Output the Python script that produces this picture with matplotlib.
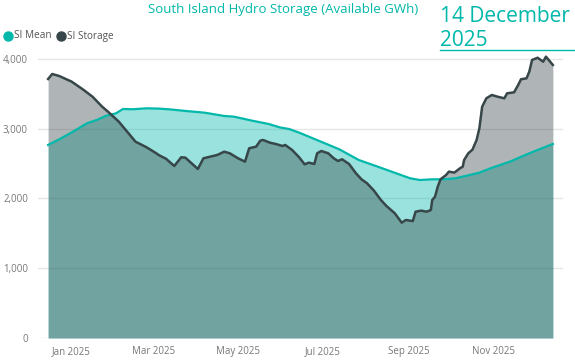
import matplotlib
matplotlib.use("Agg")
import matplotlib.pyplot as plt
import pandas as pd

plt.rcParams['font.family'] = ['Open Sans', 'DejaVu Sans']

# SI Storage (GWh)
storage_dates = ["2024-12-15", "2024-12-18", "2024-12-23", "2025-01-01", "2025-01-09", "2025-01-16",
                 "2025-01-23", "2025-01-28", "2025-02-04", "2025-02-10", "2025-02-16", "2025-02-24",
                 "2025-03-03", "2025-03-05", "2025-03-10", "2025-03-16", "2025-03-21", "2025-03-24",
                 "2025-04-02", "2025-04-06", "2025-04-11", "2025-04-16", "2025-04-21", "2025-04-25",
                 "2025-05-01", "2025-05-06", "2025-05-09", "2025-05-14", "2025-05-17", "2025-05-19",
                 "2025-05-24", "2025-05-28", "2025-06-02", "2025-06-04", "2025-06-09", "2025-06-14",
                 "2025-06-18", "2025-06-21", "2025-06-25", "2025-06-27", "2025-06-30", "2025-07-05",
                 "2025-07-09", "2025-07-12", "2025-07-15", "2025-07-20", "2025-07-25", "2025-07-29",
                 "2025-08-02", "2025-08-07", "2025-08-12", "2025-08-16", "2025-08-22", "2025-08-27",
                 "2025-08-30", "2025-09-02", "2025-09-04", "2025-09-06", "2025-09-10", "2025-09-14",
                 "2025-09-17", "2025-09-18", "2025-09-20", "2025-09-22", "2025-09-24", "2025-09-28",
                 "2025-09-30", "2025-10-04", "2025-10-08", "2025-10-10", "2025-10-11", "2025-10-14",
                 "2025-10-17", "2025-10-20", "2025-10-22", "2025-10-24", "2025-10-27", "2025-10-31",
                 "2025-11-04", "2025-11-09", "2025-11-11", "2025-11-16", "2025-11-19", "2025-11-21",
                 "2025-11-25", "2025-11-27", "2025-11-29", "2025-12-03", "2025-12-07", "2025-12-09",
                 "2025-12-11", "2025-12-14"]
storage = [3713, 3785, 3756, 3675, 3565, 3460,
           3316, 3230, 3101, 2958, 2815, 2734,
           2648, 2620, 2570, 2466, 2591, 2585,
           2423, 2576, 2600, 2624, 2671, 2648,
           2576, 2528, 2720, 2743, 2829, 2839,
           2800, 2782, 2753, 2767, 2695, 2591,
           2490, 2514, 2495, 2648, 2681, 2648,
           2576, 2538, 2562, 2495, 2361, 2275,
           2218, 2112, 1978, 1892, 1788, 1653,
           1692, 1682, 1677, 1811, 1826, 1811,
           1835, 1978, 2026, 2170, 2275, 2337,
           2385, 2371, 2433, 2456, 2552, 2648,
           2700, 2839, 3006, 3316, 3436, 3484,
           3460, 3436, 3508, 3522, 3628, 3709,
           3723, 3818, 3986, 4018, 3961, 4033,
           3986, 3914]

# SI Mean (GWh)
mean_dates = ["2024-12-15", "2024-12-23", "2025-01-02", "2025-01-12", "2025-01-19", "2025-01-26",
              "2025-02-02", "2025-02-07", "2025-02-14", "2025-02-24", "2025-03-05", "2025-03-12",
              "2025-03-24", "2025-04-07", "2025-04-21", "2025-04-28", "2025-05-11", "2025-05-23",
              "2025-05-31", "2025-06-07", "2025-06-14", "2025-06-28", "2025-07-13", "2025-07-27",
              "2025-08-11", "2025-08-23", "2025-09-02", "2025-09-09", "2025-09-18", "2025-09-26",
              "2025-10-05", "2025-10-15", "2025-10-22", "2025-10-30", "2025-11-13", "2025-11-27",
              "2025-12-14"]
mean = [2767, 2848, 2958, 3078, 3125, 3187,
        3221, 3283, 3279, 3293, 3288, 3279,
        3255, 3230, 3183, 3173, 3116, 3068,
        3020, 2995, 2944, 2829, 2705, 2552,
        2447, 2361, 2290, 2265, 2275, 2275,
        2290, 2337, 2370, 2433, 2528, 2648,
        2782]

month_ticks = ["2025-01-01", "2025-03-01", "2025-05-01", "2025-07-01", "2025-09-01", "2025-11-01"]
month_labels = ["Jan 2025", "Mar 2025", "May 2025", "Jul 2025", "Sep 2025", "Nov 2025"]
y_ticks = [0, 1000, 2000, 3000, 4000]

teal = '#01B8AA'
dark = '#374649'
grey_txt = '#777777'

sd = pd.to_datetime(storage_dates)
md = pd.to_datetime(mean_dates)

fig = plt.figure(figsize=(5.75, 3.61), dpi=100)
ax = fig.add_axes([37.7 / 575, 23 / 361, (563 - 37.7) / 575, 283.2 / 361])

ax.fill_between(md, 0, mean, color=teal, alpha=0.4, linewidth=0)
ax.fill_between(sd, 0, storage, color=dark, alpha=0.4, linewidth=0)
ax.plot(md, mean, color=teal, linewidth=1.6)
ax.plot(sd, storage, color=dark, linewidth=1.8)

ax.set_ylim(0, 4060)
ax.set_xlim(pd.Timestamp("2025-01-01") - pd.Timedelta(days=24.5),
            pd.Timestamp("2025-01-01") + pd.Timedelta(days=354.3))
ax.set_yticks(y_ticks)
ax.set_yticklabels([f"{v:,}" for v in y_ticks])
ax.set_xticks(pd.to_datetime(month_ticks))
ax.set_xticklabels(month_labels)
ax.tick_params(length=0, labelsize=7, colors=grey_txt)
ax.tick_params(axis='y', pad=7)
ax.tick_params(axis='x', pad=6)
ax.grid(axis='y', color='#E6E6E6', linewidth=1)
ax.set_axisbelow(True)
for s in ax.spines.values():
    s.set_visible(False)

fig.text(148 / 575, 1 - 10 / 361, "South Island Hydro Storage (Available GWh)",
         color=teal, fontsize=9.5, va='center', ha='left')
fig.text(440 / 575, 1 - 16 / 361, "14 December", color=teal, fontsize=15, va='center', ha='left')
fig.text(440 / 575, 1 - 40 / 361, "2025", color=teal, fontsize=15, va='center', ha='left')
fig.add_artist(plt.Line2D([440 / 575, 1], [1 - 50 / 361, 1 - 50 / 361], color=teal, linewidth=1))

# legend
fig.add_artist(plt.Line2D([8 / 575], [1 - 36 / 361], marker='o', markersize=6.5, color=teal, linestyle=''))
fig.text(14 / 575, 1 - 36 / 361, "SI Mean", color='#555555', fontsize=7.2, va='center')
fig.add_artist(plt.Line2D([61 / 575], [1 - 36 / 361], marker='o', markersize=6.5, color=dark, linestyle=''))
fig.text(67 / 575, 1 - 36 / 361, "SI Storage", color='#555555', fontsize=7.2, va='center')

fig.savefig("out.png", dpi=100)
